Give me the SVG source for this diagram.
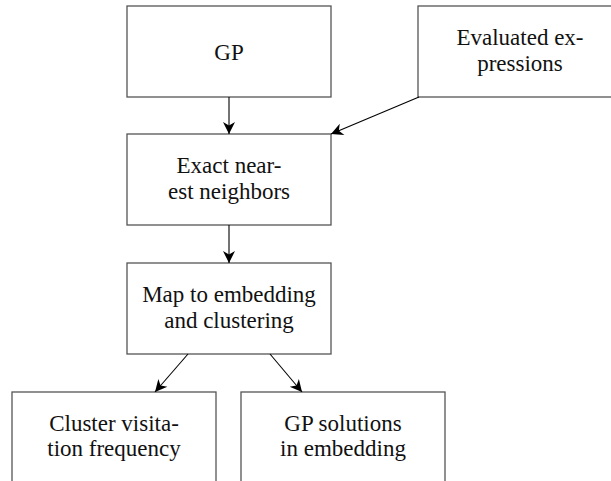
<svg xmlns="http://www.w3.org/2000/svg" width="611" height="481" viewBox="0 0 611 481">
<style>
.box{fill:#fff;stroke:#555;stroke-width:1.3}
text{font-family:'Liberation Serif','Times New Roman',serif;font-size:23px;fill:#111;text-anchor:middle}
.edge{stroke:#000;stroke-width:1.1;fill:none;marker-end:url(#ah)}
</style>
<defs>
<marker id="ah" markerUnits="userSpaceOnUse" orient="auto" markerWidth="16" markerHeight="14" viewBox="-13 -7 14 14" refX="0" refY="0">
<path d="M0,0 L-12,-6 L-8.5,0 L-12,6 Z" fill="#000"/>
</marker>
</defs>
<rect x="0" y="0" width="611" height="481" fill="#fff"/>
<g id="gp"><rect class="box" x="127" y="6" width="204" height="91"/><text x="229" y="60">GP</text></g>
<g id="evaluated"><rect class="box" x="418" y="6" width="220" height="91"/><text x="520" y="45">Evaluated ex-</text><text x="520" y="71">pressions</text></g>
<g id="exact"><rect class="box" x="127" y="134" width="204" height="91"/><text x="229" y="173">Exact near-</text><text x="229" y="199">est neighbors</text></g>
<g id="map"><rect class="box" x="127" y="263" width="204" height="91"/><text x="229" y="302">Map to embedding</text><text x="229" y="328">and clustering</text></g>
<g id="cluster"><rect class="box" x="12" y="392" width="204" height="100"/><text x="114" y="431">Cluster visita-</text><text x="114" y="456">tion frequency</text></g>
<g id="gpsol"><rect class="box" x="241" y="392" width="204" height="100"/><text x="343" y="431">GP solutions</text><text x="343" y="456">in embedding</text></g>
<g id="connectors">
<line class="edge" x1="229" y1="97" x2="229" y2="134"/>
<line class="edge" x1="419" y1="97" x2="331" y2="134"/>
<line class="edge" x1="229" y1="225" x2="229" y2="263"/>
<line class="edge" x1="188" y1="354" x2="155" y2="392"/>
<line class="edge" x1="270" y1="354" x2="302" y2="392"/>
</g>
</svg>
